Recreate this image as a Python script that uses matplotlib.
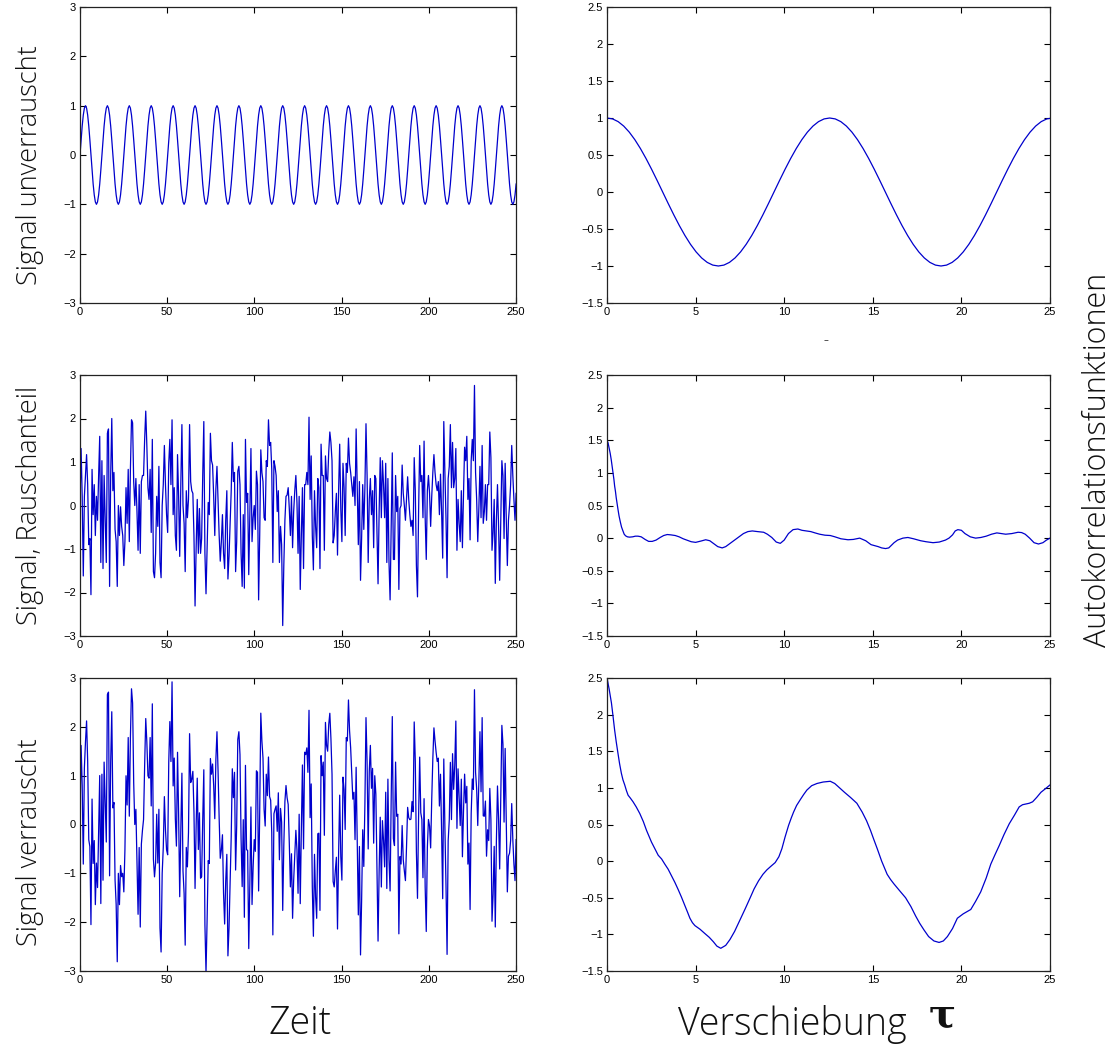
import numpy as np
import matplotlib
matplotlib.use('Agg')
import matplotlib.pyplot as plt
from matplotlib.ticker import FuncFormatter

# ---------------- data ----------------
period = 12.566  # period of the clean sine (peak spacing)

# one period of the clean signal, 20 samples
sine_period_vals = [0.0, 0.309, 0.588, 0.809, 0.951, 1.0, 0.951, 0.809, 0.588, 0.309,
                    0.0, -0.309, -0.588, -0.809, -0.951, -1.0, -0.951, -0.809, -0.588, -0.309]

# one period of the autocorrelation of the clean signal, 40 samples
acf_clean_period_vals = [1.0, 0.9877, 0.9511, 0.8910, 0.8090, 0.7071, 0.5878, 0.4540, 0.3090, 0.1564,
                         0.0, -0.1564, -0.3090, -0.4540, -0.5878, -0.7071, -0.8090, -0.8910, -0.9511, -0.9877,
                         -1.0, -0.9877, -0.9511, -0.8910, -0.8090, -0.7071, -0.5878, -0.4540, -0.3090, -0.1564,
                         0.0, 0.1564, 0.3090, 0.4540, 0.5878, 0.7071, 0.8090, 0.8910, 0.9511, 0.9877]

# noise component (middle-left panel), sampled on the same grid as the sine
noise = [
    0.07, 1.31, 0.21, -1.62, 0.21, 0.69, 1.17, 0.48, -0.90, -0.76,
    -2.05, 0.83, -0.21, 0.48, -0.69, 0.21, -0.34, 0.69, 1.59, -1.31,
    1.03, -1.45, 0.69, -0.34, -1.31, 1.66, 1.76, -1.86, 0.69, 2.0,
    0.34, 0.76, -0.55, -0.83, -1.86, 0.0, -0.69, -0.03, -0.48, -0.69,
    -1.38, -0.83, 0.41, -0.41, 0.83, -0.83, 0.83, 1.97, 1.90, 0.55,
    0.0, 0.62, -0.14, -1.03, 0.48, -1.10, 0.55, 0.69, 0.69, 1.52,
    2.17, 1.38, 0.41, 0.14, 0.83, -0.62, 1.52, -1.52, -1.66, -1.10,
    0.21, -0.48, 0.90, -1.31, -1.66, 0.0, 0.48, 1.38, 0.48, -0.21,
    -0.62, 0.97, 1.52, 0.48, 1.97, -0.21, 0.41, -0.69, -1.03, 1.17,
    0.21, -1.17, 0.48, 1.86, 0.0, -0.41, -1.52, 0.34, -0.28, 0.14,
    1.86,
    0.55, 0.34, 0.28, -0.69, -2.31, -0.97, 0.14, -1.10, -0.07, -1.10,
    -0.76, 0.69, 1.93, -1.10, -2.03, -1.00, 0.07, -0.21, 1.66, 1.03,
    0.93, 0.21, -0.69, 0.38, 0.90, 0.14, -0.69, -1.28, -0.83, -0.21,
    -1.10, -1.45, -0.34, 0.34, -1.69, -1.17, -0.41, 0.34, 1.45, 0.55,
    0.76, -1.52, -0.83, 0.79, 0.90, 0.48, -1.10, -1.86, -0.21, -1.90,
    1.52, 0.07, 0.28, -1.59, -0.21, 1.31, -0.83, -0.28, 0.0, -0.55,
    0.79, 0.48, -2.17, -0.69, 1.28, 0.76, 0.55, -0.28, -0.34, 1.03,
    0.90, 1.97, 1.38, 1.45, 0.83, -1.31, 1.03, 0.90, 0.69, -0.14,
    0.34, -1.31, -0.48, -0.90, -2.76, -1.38, -0.34, 0.21, 0.24, 0.41,
    -0.07, -0.69, 0.21, -0.97, -0.14, 0.34, 0.69, 0.07, -1.10, 0.21,
    -1.93,
    -0.69, 0.41, -1.45, 0.48, 0.48, 0.76, 0.48, 2.03, 0.14, 1.14,
    -0.69, -1.48, 0.34, -0.48, -0.97, 0.62, 0.41, -1.45, 1.41, 0.69,
    0.69, -1.03, 1.14, 0.62, 0.55, 1.24, 1.69, 1.45, 1.03, -0.86,
    -0.69, -0.14, 0.28, -1.14, 0.34, 1.41, -0.07, -0.83, 0.97, 0.41,
    -0.69, 0.97, 0.76, 1.55, 0.97, 0.76, 0.48, 0.21, 0.66, 0.0,
    1.76, 0.41, -0.90, 0.55, -1.72, -0.76, 0.48, -0.55, 0.41, 1.88,
    0.69, -1.31, 0.14, 0.62, -0.21, 0.34, -0.97, 0.69, 0.62, -0.55,
    -1.80, -0.14, 1.10, -0.28, 1.03, 0.48, -0.28, 0.97, -1.31, 0.62,
    -1.31, -2.17, -0.41, 1.21, -1.24, -1.24, 0.69, -0.14, 0.21, -1.93,
    -0.07, 0.0, 0.93, 0.28, 0.0, -0.34, 0.14, 0.66, 0.14, -0.21,
    -0.48,
    -0.34, -0.69, 1.10, 0.34, -1.38, -2.10, -0.14, 1.38, 0.55, 0.69,
    -0.28, 1.48, -0.28, -1.24, 0.34, 0.69, 0.28, -0.48, 0.21, 0.76,
    1.17, 0.76, 0.48, 0.34, 0.55, -0.21, 0.72, -0.14, -1.21, 1.93,
    0.76, -0.28, -1.66, 0.62, 0.90, 1.86, 0.41, 1.45, 0.41, 0.62,
    1.31, -1.03, 0.14, -0.41, -0.83, 0.34, -0.97, 0.28, 1.34, 1.03,
    1.59, 0.14, 0.62, -0.79, 1.03, 1.52, 1.03, 2.76, 0.76, 0.14,
    -0.83, -0.07, 0.90, -0.28, 1.38, -0.41, -0.14, 0.48, -0.34, 0.48,
    0.48, 1.69, 1.10, -1.03, -0.62, 0.14, -1.79, -0.34, 0.48, -0.48,
    -1.72, -0.34, 1.03, 0.69, -0.76, 0.97, -0.28, -1.38, -0.34, 0.0,
    0.48, 1.38, 0.69, 0.14, -0.34, 0.28,
]

# autocorrelation of the noise (middle-right panel)
tau_noise = [0.0, 0.06, 0.12, 0.18, 0.24, 0.29, 0.34, 0.39, 0.43, 0.48, 0.52, 0.57, 0.62, 0.68, 0.75,
             0.82, 0.9, 0.97, 1.05, 1.15, 1.27, 1.45, 1.6, 1.75, 1.93, 2.15, 2.35, 2.55, 2.77, 3.0,
             3.2, 3.4, 3.6, 3.85, 4.07, 4.3, 4.5, 4.75, 5.0, 5.3, 5.57, 5.8, 6.0, 6.25, 6.5,
             6.7, 6.9, 7.1, 7.25, 7.5, 7.7, 7.95, 8.2, 8.5, 8.84, 9.05, 9.3, 9.55, 9.78, 10.0,
             10.24, 10.5, 10.77, 11.0, 11.25, 11.5, 11.74, 12.0, 12.3, 12.6, 12.86, 13.2, 13.6, 13.9, 14.26,
             14.6, 14.9, 15.3, 15.5, 15.72, 15.9, 16.05, 16.2, 16.4, 16.7, 16.98, 17.3, 17.7, 18.0, 18.4,
             18.75, 19.1, 19.3, 19.5, 19.65, 19.8, 20.0, 20.2, 20.5, 20.8, 21.1, 21.4, 21.7, 22.0, 22.25,
             22.5, 22.85, 23.2, 23.4, 23.6, 23.85, 24.1, 24.35, 24.6, 24.8, 25.0]
acf_noise = [1.5, 1.46, 1.38, 1.3, 1.2, 1.1, 1.0, 0.9, 0.8, 0.71, 0.62, 0.53, 0.44, 0.34, 0.25,
             0.17, 0.11, 0.06, 0.035, 0.02, 0.015, 0.02, 0.03, 0.03, 0.02, -0.02, -0.05, -0.05, -0.03, 0.01,
             0.04, 0.055, 0.05, 0.04, 0.02, -0.01, -0.03, -0.055, -0.065, -0.045, -0.025, -0.04, -0.08, -0.13, -0.15,
             -0.13, -0.09, -0.05, -0.02, 0.03, 0.07, 0.1, 0.11, 0.1, 0.09, 0.06, 0.01, -0.06, -0.08, -0.03,
             0.07, 0.13, 0.14, 0.12, 0.11, 0.1, 0.08, 0.06, 0.045, 0.04, 0.02, -0.01, -0.025, -0.02, 0.0,
             -0.04, -0.1, -0.13, -0.15, -0.16, -0.15, -0.11, -0.07, -0.03, 0.0, 0.01, -0.01, -0.04, -0.055, -0.07,
             -0.06, -0.03, 0.0, 0.05, 0.11, 0.13, 0.12, 0.07, 0.02, 0.0, 0.01, 0.03, 0.06, 0.08, 0.07,
             0.06, 0.07, 0.09, 0.085, 0.06, 0.0, -0.07, -0.09, -0.07, -0.03, 0.0]

# autocorrelation of the noisy signal (bottom-right panel)
tau_noisy = [0.0, 0.12, 0.25, 0.34, 0.43, 0.52, 0.62, 0.71, 0.81, 0.9, 1.0, 1.1, 1.19, 1.32, 1.47,
             1.65, 1.85, 2.05, 2.23, 2.37, 2.51, 2.7, 2.89, 3.08, 3.26, 3.45, 3.64, 3.83, 4.02, 4.2,
             4.4, 4.55, 4.68, 4.82, 4.96, 5.25, 5.53, 5.77, 6.0, 6.2, 6.42, 6.7, 6.94, 7.2, 7.51,
             7.8, 8.08, 8.3, 8.55, 8.8, 9.02, 9.25, 9.49, 9.7, 9.87, 10.05, 10.25, 10.4, 10.53, 10.7,
             10.91, 11.1, 11.28, 11.55, 11.85, 12.2, 12.6, 12.85, 13.08, 13.4, 13.74, 14.1, 14.4, 14.65, 14.87,
             15.05, 15.25, 15.5, 15.81, 16.0, 16.19, 16.5, 16.85, 17.15, 17.42, 17.65, 17.89, 18.15, 18.45, 18.74,
             18.98, 19.21, 19.5, 19.77, 20.1, 20.53, 20.8, 21.09, 21.4, 21.66, 21.9, 22.13, 22.4, 22.7, 23.0,
             23.26, 23.45, 23.64, 23.83, 24.02, 24.25, 24.49, 24.75, 25.0]
acf_noisy = [2.5, 2.35, 2.16, 1.98, 1.79, 1.63, 1.47, 1.33, 1.2, 1.11, 1.04, 0.96, 0.9, 0.86, 0.81,
             0.74, 0.65, 0.54, 0.42, 0.34, 0.26, 0.17, 0.08, 0.03, -0.04, -0.11, -0.2, -0.29, -0.39, -0.49,
             -0.61, -0.7, -0.78, -0.84, -0.88, -0.93, -0.99, -1.04, -1.1, -1.16, -1.19, -1.15, -1.07, -0.96, -0.8,
             -0.65, -0.5, -0.38, -0.27, -0.18, -0.12, -0.07, -0.02, 0.06, 0.17, 0.33, 0.49, 0.59, 0.67, 0.76,
             0.84, 0.91, 0.97, 1.03, 1.06, 1.08, 1.09, 1.06, 1.01, 0.94, 0.87, 0.79, 0.67, 0.55, 0.42,
             0.3, 0.17, 0.0, -0.18, -0.25, -0.31, -0.4, -0.5, -0.62, -0.75, -0.85, -0.94, -1.03, -1.09, -1.11,
             -1.09, -1.03, -0.92, -0.78, -0.72, -0.66, -0.55, -0.42, -0.23, -0.04, 0.09, 0.21, 0.36, 0.51, 0.63,
             0.74, 0.77, 0.78, 0.79, 0.81, 0.87, 0.94, 0.99, 1.04]

left_xticks = [0, 50, 100, 150, 200, 250]
right_xticks = [0, 5, 10, 15, 20, 25]
left_yticks = [-3, -2, -1, 0, 1, 2, 3]
right_yticks = [-1.5, -1, -0.5, 0, 0.5, 1, 1.5, 2, 2.5]

row_labels = ['Signal unverrauscht', 'Signal, Rauschanteil', 'Signal verrauscht']

# ---------------- derived series ----------------
n = len(noise)
step = period / len(sine_period_vals)
t = np.arange(n) * step
clean = np.resize(np.array(sine_period_vals), n)
noisy = clean + np.array(noise)

step_acf = period / len(acf_clean_period_vals)
m = int(np.ceil(25 / step_acf)) + 1
tau_clean = np.arange(m) * step_acf
acf_clean = np.resize(np.array(acf_clean_period_vals), m)

# ---------------- figure ----------------
W, H = 1120, 1049
fig = plt.figure(figsize=(W / 100, H / 100), dpi=100)

def box(x0, x1, ytop, ybot):
    return [x0 / W, 1 - ybot / H, (x1 - x0) / W, (ybot - ytop) / H]

rows = [(7, 303), (375, 636), (678, 971)]
lx = (80, 516)
rx = (607, 1050)
col = '#0000cc'
fmt = FuncFormatter(lambda v, p: ('%g' % v).replace('-', '\u2212'))

def style(ax, xlim, ylim, xt, yt):
    ax.set_xlim(*xlim)
    ax.set_ylim(*ylim)
    ax.set_xticks(xt)
    ax.set_yticks(yt)
    ax.xaxis.set_major_formatter(fmt)
    ax.yaxis.set_major_formatter(fmt)
    ax.tick_params(direction='in', top=True, right=True, length=4, width=0.8,
                   labelsize=8, pad=3)
    for lab in ax.get_xticklabels() + ax.get_yticklabels():
        lab.set_family('Liberation Sans')
    for s in ax.spines.values():
        s.set_linewidth(0.9)
        s.set_color('#222222')

left_series = [clean, np.array(noise), noisy]
right_series = [(tau_clean, acf_clean), (tau_noise, acf_noise), (tau_noisy, acf_noisy)]

for i, (yt, yb) in enumerate(rows):
    axl = fig.add_axes(box(lx[0], lx[1], yt, yb))
    axl.plot(t, left_series[i], color=col, lw=0.9)
    style(axl, (0, 250), (-3, 3), left_xticks, left_yticks)

    axr = fig.add_axes(box(rx[0], rx[1], yt, yb))
    axr.plot(right_series[i][0], right_series[i][1], color=col, lw=0.9)
    style(axr, (0, 25), (-1.5, 2.5), right_xticks, right_yticks)

# big labels
big = dict(family='Open Sans', weight='light', color='#111111')
centers = [165, 505, 842]
for lab, yc in zip(row_labels, centers):
    fig.text(30 / W, 1 - yc / H, lab, rotation=90, ha='center', va='center', fontsize=19.5, **big)

fig.text(1098 / W, 1 - 460 / H, 'Autokorrelationsfunktionen', rotation=90,
         ha='center', va='center', fontsize=22, **big)
fig.text(300 / W, 1 - 1024 / H, 'Zeit', ha='center', va='center', fontsize=27, **big)
fig.text(792 / W, 1 - 1024 / H, 'Verschiebung', ha='center', va='center', fontsize=27, **big)
fig.text(942 / W, 1 - 1016 / H, '\u03c4', ha='center', va='center', fontsize=29,
         family='DejaVu Serif', weight='bold', color='#111111')
fig.text(826 / W, 1 - 340 / H, '\u2013', ha='center', va='center', fontsize=7, color='#333333')

fig.savefig('out.png', dpi=100)
